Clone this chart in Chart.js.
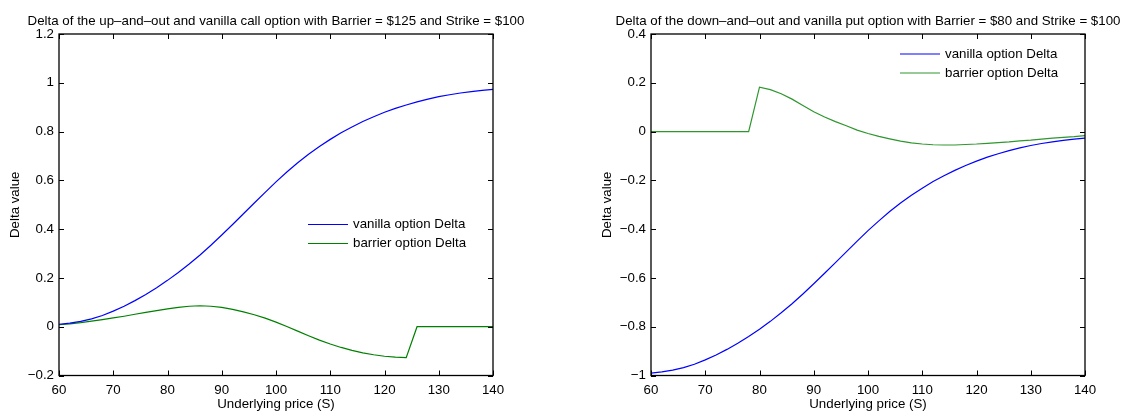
<!DOCTYPE html>
<html><head><meta charset="utf-8">
<script src="https://cdn.jsdelivr.net/npm/chart.js@4/dist/chart.umd.min.js"></script>
<style>
html,body{margin:0;padding:0;background:#fff;overflow:hidden}
#w{position:relative;width:1129px;height:411px;background:#fff}
canvas{position:absolute;top:0}
</style></head><body>
<div id="w">
<canvas id="c1" width="560" height="411" style="left:0"></canvas>
<canvas id="c2" width="537" height="411" style="left:592px"></canvas>
</div>
<script>
// Underlying price grid (S)
const S = [60,62,64,66,68,70,72,74,76,78,80,82,84,86,88,90,92,94,96,98,100,
           102,104,106,108,110,112,114,116,118,120,122,124,126,128,130,132,134,136,138,140];

// Left chart: up-and-out call (barrier 125, strike 100)
const callVanilla = [0.010,0.015,0.022,0.032,0.046,0.064,0.084,0.107,0.132,0.160,0.190,
                     0.222,0.257,0.294,0.334,0.376,0.419,0.463,0.507,0.551,0.594,
                     0.634,0.672,0.707,0.739,0.768,0.795,0.819,0.841,0.861,0.879,
                     0.895,0.909,0.922,0.933,0.943,0.951,0.958,0.964,0.969,0.973];
const callBarrier = [0.008,0.012,0.017,0.023,0.029,0.036,0.043,0.051,0.059,0.066,0.073,
                     0.079,0.084,0.086,0.084,0.079,0.071,0.061,0.049,0.035,0.019,
                     0.001,-0.018,-0.037,-0.055,-0.071,-0.085,-0.097,-0.107,-0.115,-0.121,
                     -0.125,-0.127,0,0,0,0,0,0,0,0];

// Right chart: down-and-out put (barrier 80, strike 100)
const putVanilla = [-0.990,-0.985,-0.978,-0.968,-0.954,-0.936,-0.916,-0.893,-0.868,-0.840,-0.810,
                    -0.778,-0.743,-0.706,-0.666,-0.624,-0.581,-0.537,-0.493,-0.449,-0.406,
                    -0.366,-0.328,-0.293,-0.261,-0.232,-0.205,-0.181,-0.159,-0.139,-0.121,
                    -0.105,-0.091,-0.078,-0.067,-0.057,-0.049,-0.042,-0.036,-0.031,-0.027];
const putBarrier = [0,0,0,0,0,0,0,0,0,0,0.182,
                    0.172,0.155,0.133,0.107,0.081,0.060,0.041,0.024,0.006,-0.008,
                    -0.020,-0.030,-0.039,-0.046,-0.051,-0.054,-0.055,-0.055,-0.053,-0.051,
                    -0.048,-0.045,-0.042,-0.038,-0.035,-0.031,-0.027,-0.024,-0.021,-0.017];

const xTicks = [60,70,80,90,100,110,120,130,140];
const yTicksCall = [-0.2,0,0.2,0.4,0.6,0.8,1,1.2];
const yTicksPut = [-1,-0.8,-0.6,-0.4,-0.2,0,0.2,0.4];
const seriesLabels = ['vanilla option Delta','barrier option Delta'];
const titleCall = 'Delta of the up\u2013and\u2013out and vanilla call option with Barrier = $125 and Strike = $100';
const titlePut = 'Delta of the down\u2013and\u2013out and vanilla put option with Barrier = $80 and Strike = $100';
const xTitle = 'Underlying price (S)';
const yTitle = 'Delta value';

const FAM = "'Liberation Sans', Arial, Helvetica, sans-serif";
const FS = 13.3;

function fmt(v){
  const r = Math.round(v*10)/10;
  const s = String(Math.abs(r));
  return (r < 0 ? '\u2212' : '') + s;
}

function pts(ys){ return S.map((s,i)=>({x:s,y:ys[i]})); }

function decor(title, legendTop){
  return {
    id:'decor',
    afterDraw(chart){
      const {ctx, chartArea:a, scales:{x,y}} = chart;
      ctx.save();
      ctx.strokeStyle='#000';
      ctx.lineWidth=1.3;
      ctx.strokeRect(a.left, a.top, a.right-a.left, a.bottom-a.top);
      ctx.lineWidth=1;
      const L=5;
      ctx.beginPath();
      x.ticks.forEach(t=>{
        const p = Math.round(x.getPixelForValue(t.value))+0.5;
        ctx.moveTo(p,a.bottom); ctx.lineTo(p,a.bottom-L);
        ctx.moveTo(p,a.top); ctx.lineTo(p,a.top+L);
      });
      y.ticks.forEach(t=>{
        const p = Math.round(y.getPixelForValue(t.value))+0.5;
        ctx.moveTo(a.left,p); ctx.lineTo(a.left+L,p);
        ctx.moveTo(a.right,p); ctx.lineTo(a.right-L,p);
      });
      ctx.stroke();
      ctx.fillStyle='#000';
      ctx.font = FS+'px '+FAM;
      ctx.textAlign='center';
      ctx.textBaseline='middle';
      ctx.fillText(title,(a.left+a.right)/2,21);
      chart.data.datasets.forEach((d,i)=>{
        const yy = legendTop + i*19;
        ctx.strokeStyle=d.borderColor;
        ctx.lineWidth=1.2;
        ctx.beginPath(); ctx.moveTo(308,yy); ctx.lineTo(348,yy); ctx.stroke();
        ctx.textAlign='left';
        ctx.fillStyle='#000';
        ctx.fillText(d.label,353,yy);
      });
      ctx.restore();
    }
  };
}

function makeChart(id, vanilla, barrier, green, yTicks, title, legendTop, rightPad){
  return new Chart(document.getElementById(id), {
    type:'line',
    data:{datasets:[
      {label:seriesLabels[0], data:pts(vanilla), borderColor:'#0000ff', borderWidth:1.2, pointRadius:0, tension:0, fill:false},
      {label:seriesLabels[1], data:pts(barrier), borderColor:green, borderWidth:1.2, pointRadius:0, tension:0, fill:false}
    ]},
    options:{
      responsive:false, animation:false, devicePixelRatio:1,
      layout:{padding:{top:34,right:rightPad,bottom:0,left:0}},
      plugins:{legend:{display:false}, tooltip:{enabled:false}, title:{display:false}},
      scales:{
        x:{type:'linear', min:60, max:140,
           afterBuildTicks(sc){ sc.ticks = xTicks.map(v=>({value:v})); },
           afterFit(sc){ sc.height = 35.5; },
           grid:{display:false, drawTicks:false}, border:{display:false},
           ticks:{autoSkip:false, maxRotation:0, padding:7, color:'#000', font:{family:FAM,size:FS}, callback:v=>fmt(v)},
           title:{display:true, text:xTitle, color:'#000', font:{family:FAM,size:FS,lineHeight:1}, padding:{top:0,bottom:0}}
        },
        y:{type:'linear', min:yTicks[0], max:yTicks[yTicks.length-1],
           afterBuildTicks(sc){ sc.ticks = yTicks.map(v=>({value:v})); },
           afterFit(sc){ sc.width = 59; },
           grid:{display:false, drawTicks:false}, border:{display:false},
           ticks:{autoSkip:false, padding:5, color:'#000', font:{family:FAM,size:FS}, callback:v=>fmt(v)},
           title:{display:true, text:yTitle, color:'#000', font:{family:FAM,size:FS,lineHeight:1}, padding:{top:8.4,bottom:0}}
        }
      }
    },
    plugins:[decor(title, legendTop)]
  });
}

makeChart('c1', callVanilla, callBarrier, '#008000', yTicksCall, titleCall, 224.5, 67);
makeChart('c2', putVanilla, putBarrier, '#2e962e', yTicksPut, titlePut, 54, 44);
</script>
</body></html>
